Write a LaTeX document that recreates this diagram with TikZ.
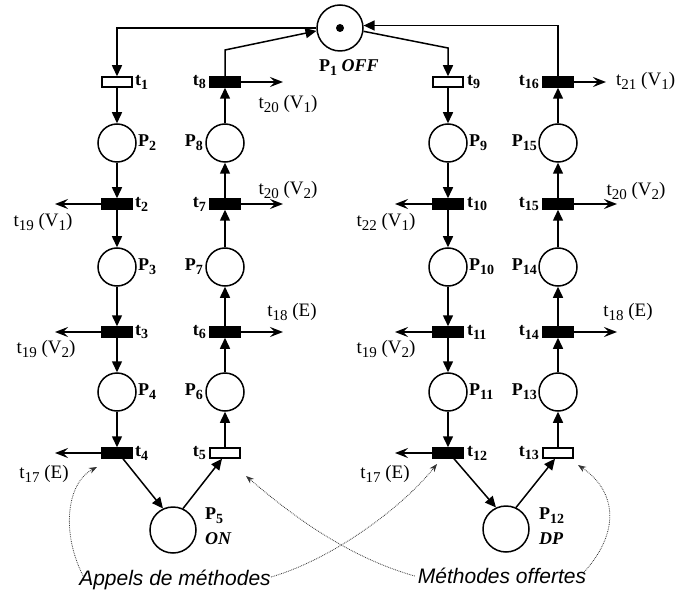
\documentclass[tikz,border=0pt]{standalone}
\usepackage{fontspec}
\setmainfont{Liberation Serif}
\setsansfont{Liberation Sans}
\usetikzlibrary{arrows.meta}
\newcommand{\ssub}[1]{\raisebox{-0.22em}{\fontsize{14}{14}\selectfont#1}}
\newcommand{\esub}[1]{\raisebox{-0.22em}{\fontsize{15}{15}\selectfont#1}}
\begin{document}
\begin{tikzpicture}[x=1pt,y=-1pt,
  place/.style={circle,draw,line width=1.5pt,minimum size=38pt,inner sep=0pt},
  bigplace/.style={place,minimum size=46pt},
  ttrans/.style={draw,line width=1.5pt,minimum width=30pt,minimum height=10pt,inner sep=0pt},
  btrans/.style={ttrans,fill=black},
  wtrans/.style={ttrans,fill=white},
  arc/.style={line width=1.5pt,-{Triangle[length=11pt,width=10pt]}},
  side/.style={line width=1.5pt,-{Stealth[length=13pt,width=10pt,inset=5pt]}},
  lbl/.style={font=\fontsize{18}{18}\selectfont\bfseries,inner sep=0pt},
  ext/.style={font=\fontsize{19}{19}\selectfont,inner sep=0pt},
  note/.style={font=\fontsize{21}{21}\selectfont\sffamily\itshape,inner sep=0pt},
  dots/.style={densely dotted,line width=0.8pt,black!80,-{Stealth[length=8pt,width=6pt]}}
]
\useasboundingbox (0,0) rectangle (700,593);
% places and token
\node[bigplace] (P1) at (340,28) {};
\node[circle,fill,minimum size=8pt,inner sep=0pt] (tok) at (P1) {};
% column 1
\node[wtrans] (t1) at (117,82) {};
\node[place] (P2) at (117,143) {};
\node[btrans] (t2) at (117,204) {};
\node[place] (P3) at (117,267) {};
\node[btrans] (t3) at (117,332) {};
\node[place] (P4) at (117,392) {};
\node[btrans] (t4) at (117,453) {};
% column 2
\node[btrans] (t8) at (225,82) {};
\node[place] (P8) at (225,143) {};
\node[btrans] (t7) at (225,204) {};
\node[place] (P7) at (225,267) {};
\node[btrans] (t6) at (225,332) {};
\node[place] (P6) at (225,392) {};
\node[wtrans] (t5) at (225,453) {};
\node[bigplace] (P5) at (173,530) {};
% column 3
\node[wtrans] (t9) at (448,82) {};
\node[place] (P9) at (448,143) {};
\node[btrans] (t10) at (448,204) {};
\node[place] (P10) at (448,267) {};
\node[btrans] (t11) at (448,332) {};
\node[place] (P11) at (448,392) {};
\node[btrans] (t12) at (448,453) {};
% column 4
\node[btrans] (t16) at (558,82) {};
\node[place] (P15) at (558,143) {};
\node[btrans] (t15) at (558,204) {};
\node[place] (P14) at (558,267) {};
\node[btrans] (t14) at (558,332) {};
\node[place] (P13) at (558,392) {};
\node[wtrans] (t13) at (558,453) {};
\node[bigplace] (P12) at (506,529) {};

% arcs
\draw[arc] (P1) -| (t1);
\draw[arc] (t1) -- (P2);
\draw[arc] (P2) -- (t2);
\draw[arc] (t2) -- (P3);
\draw[arc] (P3) -- (t3);
\draw[arc] (t3) -- (P4);
\draw[arc] (P4) -- (t4);
\draw[arc] ([xshift=6pt]t4.south) -- (P5.115);
\draw[arc] (P5.65) -- ([xshift=-3pt]t5.south);
\draw[arc] (t5) -- (P6);
\draw[arc] (P6) -- (t6);
\draw[arc] (t6) -- (P7);
\draw[arc] (P7) -- (t7);
\draw[arc] (t7) -- (P8);
\draw[arc] (P8) -- (t8);
\coordinate (k8) at (225,50);
\draw[arc] (t8) -- (k8) -- (P1.187);
\coordinate (k9) at (448,48);
\draw[arc] (P1.-8) -- (k9) -- (t9);
\draw[arc] (t9) -- (P9);
\draw[arc] (P9) -- (t10);
\draw[arc] (t10) -- (P10);
\draw[arc] (P10) -- (t11);
\draw[arc] (t11) -- (P11);
\draw[arc] (P11) -- (t12);
\draw[arc] ([xshift=6pt]t12.south) -- (P12.115);
\draw[arc] (P12.65) -- ([xshift=-3pt]t13.south);
\draw[arc] (t13) -- (P13);
\draw[arc] (P13) -- (t14);
\draw[arc] (t14) -- (P14);
\draw[arc] (P14) -- (t15);
\draw[arc] (t15) -- (P15);
\draw[arc] (P15) -- (t16);
\draw[arc] (t16) |- (P1.6);

% side arrows
\coordinate (e8) at (283,82);
\coordinate (e7) at (283,204);
\coordinate (e6) at (283,332);
\coordinate (e2) at (55,204);
\coordinate (e3) at (55,332);
\coordinate (e4) at (55,453);
\coordinate (e16) at (606,82);
\coordinate (e15) at (617,204);
\coordinate (e14) at (617,332);
\coordinate (e10) at (395,204);
\coordinate (e11) at (395,332);
\coordinate (e12) at (395,453);
\foreach \a/\b in {t8/e8,t7/e7,t6/e6,t2/e2,t3/e3,t4/e4,t16/e16,t15/e15,t14/e14,t10/e10,t11/e11,t12/e12}
  \draw[side] (\a) -- (\b);

% external labels
\node[ext] (x8) at (288,104) {t\esub{20} (V\esub{1})};
\node[ext] (x7) at (288,190) {t\esub{20} (V\esub{2})};
\node[ext] (x6) at (292,312) {t\esub{18} (E)};
\node[ext] (x2) at (43,222) {t\esub{19} (V\esub{1})};
\node[ext] (x3) at (46,349) {t\esub{19} (V\esub{2})};
\node[ext] (x4) at (44,474) {t\esub{17} (E)};
\node[ext,anchor=west] (x16) at (616,81) {t\esub{21} (V\esub{1})};
\node[ext] (x15) at (636,191) {t\esub{20} (V\esub{2})};
\node[ext] (x14) at (628,312) {t\esub{18} (E)};
\node[ext] (x10) at (386,222) {t\esub{22} (V\esub{1})};
\node[ext] (x11) at (386,349) {t\esub{19} (V\esub{2})};
\node[ext] (x12) at (385,474) {t\esub{17} (E)};

% bold labels
\node[lbl,anchor=west] (l1) at (135,82) {t\ssub{1}};
\node[lbl,anchor=west] (l2) at (135,204) {t\ssub{2}};
\node[lbl,anchor=west] (l3) at (135,332) {t\ssub{3}};
\node[lbl,anchor=west] (l4) at (135,453) {t\ssub{4}};
\node[lbl,anchor=west] (lP2) at (138,143) {P\ssub{2}};
\node[lbl,anchor=west] (lP3) at (138,267) {P\ssub{3}};
\node[lbl,anchor=west] (lP4) at (138,392) {P\ssub{4}};
\node[lbl,anchor=east] (l8) at (206,82) {t\ssub{8}};
\node[lbl,anchor=east] (l7) at (206,204) {t\ssub{7}};
\node[lbl,anchor=east] (l6) at (206,332) {t\ssub{6}};
\node[lbl,anchor=east] (l5) at (206,453) {t\ssub{5}};
\node[lbl,anchor=east] (lP8) at (203,143) {P\ssub{8}};
\node[lbl,anchor=east] (lP7) at (203,267) {P\ssub{7}};
\node[lbl,anchor=east] (lP6) at (203,392) {P\ssub{6}};
\node[lbl,anchor=west] (l9) at (467,82) {t\ssub{9}};
\node[lbl,anchor=west] (l10) at (467,204) {t\ssub{10}};
\node[lbl,anchor=west] (l11) at (467,332) {t\ssub{11}};
\node[lbl,anchor=west] (l12) at (467,453) {t\ssub{12}};
\node[lbl,anchor=west] (lP9) at (469,143) {P\ssub{9}};
\node[lbl,anchor=west] (lP10) at (469,267) {P\ssub{10}};
\node[lbl,anchor=west] (lP11) at (469,392) {P\ssub{11}};
\node[lbl,anchor=east] (l16) at (539,82) {t\ssub{16}};
\node[lbl,anchor=east] (l15) at (539,204) {t\ssub{15}};
\node[lbl,anchor=east] (l14) at (539,332) {t\ssub{14}};
\node[lbl,anchor=east] (l13) at (539,453) {t\ssub{13}};
\node[lbl,anchor=east] (lP15) at (537,143) {P\ssub{15}};
\node[lbl,anchor=east] (lP14) at (537,267) {P\ssub{14}};
\node[lbl,anchor=east] (lP13) at (537,392) {P\ssub{13}};
\node[lbl,anchor=west] (lP1) at (319,68) {P\ssub{1} \textit{OFF}};
\node[lbl,anchor=west] (lP5) at (205,516) {P\ssub{5}};
\node[lbl,anchor=west] (lON) at (205,539) {\textit{ON}};
\node[lbl,anchor=west] (lP12) at (539,516) {P\ssub{12}};
\node[lbl,anchor=west] (lDP) at (539,539) {\textit{DP}};

% notes
\node[note] (appels) at (175,580) {Appels de méthodes};
\node[note] (offertes) at (502,576) {Méthodes offertes};
\coordinate (a1) at (97,467);
\coordinate (a2) at (437,464);
\coordinate (a3) at (246,476);
\coordinate (a4) at (578,465);
\draw[dots] ([xshift=4pt,yshift=-6pt]appels.north west) .. controls (60,530) and (68,482) .. (a1);
\draw[dots] ([yshift=3pt]appels.east) .. controls (330,560) and (400,510) .. (a2);
\draw[dots] ([xshift=-3pt]offertes.west) .. controls (340,555) and (280,505) .. (a3);
\draw[dots] ([xshift=-2pt,yshift=-4pt]offertes.north east) .. controls (622,530) and (615,490) .. (a4);
\end{tikzpicture}
\end{document}
